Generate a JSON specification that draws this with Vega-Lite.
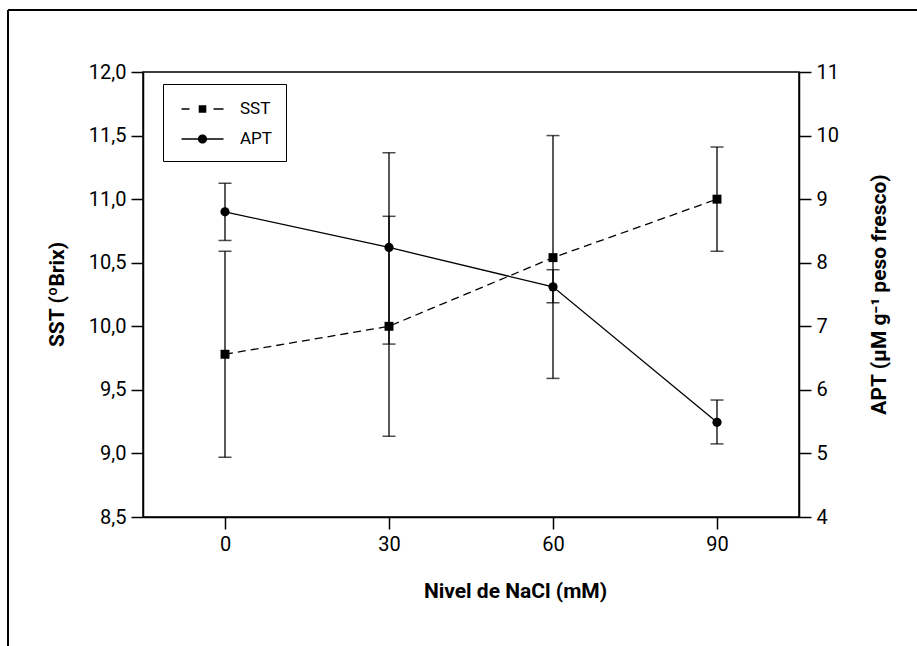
{
  "$schema": "https://vega.github.io/schema/vega-lite/v6.json",
  "autosize": {"type": "none"},
  "padding": {"left": 143, "top": 72, "right": 118, "bottom": 129},
  "width": 656,
  "height": 445,
  "background": "white",
  "datasets": {
    "d": [
      {"serie": "SST", "nacl": 0, "valor": 9.78, "lo": 8.97, "hi": 10.59},
      {"serie": "SST", "nacl": 30, "valor": 10.0, "lo": 9.135, "hi": 10.865},
      {"serie": "SST", "nacl": 60, "valor": 10.54, "lo": 9.59, "hi": 11.5},
      {"serie": "SST", "nacl": 90, "valor": 11.0, "lo": 10.59, "hi": 11.41},
      {"serie": "APT", "nacl": 0, "valor": 8.8, "lo": 8.35, "hi": 9.25},
      {"serie": "APT", "nacl": 30, "valor": 8.24, "lo": 6.72, "hi": 9.73},
      {"serie": "APT", "nacl": 60, "valor": 7.62, "lo": 7.37, "hi": 7.89},
      {"serie": "APT", "nacl": 90, "valor": 5.49, "lo": 5.15, "hi": 5.84}
    ]
  },
  "data": {"name": "d"},
  "layer": [
    {
      "transform": [{"filter": "datum.serie === 'SST'"}],
      "encoding": {
        "x": {
          "field": "nacl", "type": "quantitative",
          "scale": {"domain": [-15, 105], "nice": false, "zero": false},
          "axis": {
            "values": [0, 30, 60, 90],
            "title": "Nivel de NaCl (mM)",
            "titleX": 372, "titleY": 80, "titleBaseline": "alphabetic", "titleAlign": "center"
          }
        }
      },
      "layer": [
        {
          "mark": {"type": "rule", "color": "black", "strokeWidth": 1.5},
          "encoding": {
            "x": {"datum": -39.7, "type": "quantitative"},
            "y": {"datum": 12.487, "type": "quantitative"},
            "y2": {"datum": 6}
          }
        },
        {
          "mark": {"type": "rule", "color": "black", "strokeWidth": 1.5},
          "encoding": {
            "y": {"datum": 12.487, "type": "quantitative"},
            "x": {"datum": -39.7, "type": "quantitative"},
            "x2": {"datum": 250}
          }
        },
        {
          "mark": {"type": "line", "color": "black", "strokeWidth": 1.3, "strokeDash": [8, 5]},
          "encoding": {
            "y": {
              "field": "valor", "type": "quantitative",
              "scale": {"domain": [8.5, 12], "nice": false, "zero": false},
              "axis": {
                "values": [8.5, 9, 9.5, 10, 10.5, 11, 11.5, 12],
                "labelExpr": "replace(format(datum.value, '.1f'), '.', ',')",
                "title": "SST (ºBrix)",
                "titleX": -76, "titleY": 222, "titleAlign": "center", "titleBaseline": "bottom", "titleAngle": 270
              }
            }
          }
        },
        {
          "mark": {"type": "rule", "color": "black", "strokeWidth": 1.3},
          "encoding": {"y": {"field": "lo", "type": "quantitative"}, "y2": {"field": "hi"}}
        },
        {
          "mark": {"type": "tick", "orient": "horizontal", "color": "black", "size": 13, "thickness": 1.5},
          "encoding": {"y": {"field": "lo", "type": "quantitative"}}
        },
        {
          "mark": {"type": "tick", "orient": "horizontal", "color": "black", "size": 13, "thickness": 1.5},
          "encoding": {"y": {"field": "hi", "type": "quantitative"}}
        },
        {
          "mark": {"type": "point", "shape": "square", "filled": true, "color": "black", "opacity": 1, "size": 80},
          "encoding": {"y": {"field": "valor", "type": "quantitative"}}
        },
        {
          "data": {"values": [{"serie": "SST"}, {"serie": "APT"}]},
          "mark": {"type": "point", "filled": true, "color": "black", "opacity": 0},
          "encoding": {
            "x": {"datum": 0, "type": "quantitative"},
            "y": {"datum": 10, "type": "quantitative"},
            "shape": {
              "field": "serie", "type": "nominal",
              "scale": {
                "domain": ["SST", "APT"],
                "range": [
                  "M-2.1,-0.07H-1.3V0.07H-2.1ZM-0.38,-0.38H0.38V0.38H-0.38ZM1.1,-0.07H2.1V0.07H1.1Z",
                  "M-2.1,-0.07H-0.4V0.07H-2.1ZM0.4,-0.07H2.1V0.07H0.4ZM0.46,0A0.46,0.46 0 1,1 -0.46,0A0.46,0.46 0 1,1 0.46,0Z"
                ]
              },
              "legend": {
                "title": null,
                "orient": "none",
                "legendX": 20,
                "legendY": 12,
                "symbolSize": 400,
                "symbolOffset": 14.5,
                "strokeColor": "black",
                "padding": 14,
                "rowPadding": 11,
                "labelOffset": 26.5,
                "labelFontSize": 17,
                "labelColor": "black",
                "encode": {
                  "symbols": {
                    "update": {
                      "fill": {"value": "black"},
                      "opacity": {"value": 1},
                      "fillOpacity": {"value": 1}
                    }
                  }
                }
              }
            }
          }
        }
      ]
    },
    {
      "transform": [{"filter": "datum.serie === 'APT'"}],
      "encoding": {
        "x": {"field": "nacl", "type": "quantitative"}
      },
      "layer": [
        {
          "mark": {"type": "line", "color": "black", "strokeWidth": 1.3},
          "encoding": {
            "y": {
              "field": "valor", "type": "quantitative",
              "scale": {"domain": [4, 11], "nice": false, "zero": false},
              "axis": {
                "orient": "right",
                "values": [4, 5, 6, 7, 8, 9, 10, 11],
                "format": "d",
                "title": "APT (µM g⁻¹ peso fresco)",
                "titleX": 80, "titleY": 222, "titleAlign": "center", "titleBaseline": "middle", "titleAngle": 270
              }
            }
          }
        },
        {
          "mark": {"type": "rule", "color": "black", "strokeWidth": 1.3},
          "encoding": {"y": {"field": "lo", "type": "quantitative"}, "y2": {"field": "hi"}}
        },
        {
          "mark": {"type": "tick", "orient": "horizontal", "color": "black", "size": 13, "thickness": 1.5},
          "encoding": {"y": {"field": "lo", "type": "quantitative"}}
        },
        {
          "mark": {"type": "tick", "orient": "horizontal", "color": "black", "size": 13, "thickness": 1.5},
          "encoding": {"y": {"field": "hi", "type": "quantitative"}}
        },
        {
          "mark": {"type": "point", "shape": "circle", "filled": true, "color": "black", "opacity": 1, "size": 85},
          "encoding": {"y": {"field": "valor", "type": "quantitative"}}
        }
      ]
    }
  ],
  "resolve": {"scale": {"y": "independent"}},
  "config": {
    "font": "Roboto",
    "view": {"stroke": "black", "strokeWidth": 1.5},
    "axis": {
      "grid": false,
      "domainColor": "black",
      "domainWidth": 1.5,
      "tickColor": "black",
      "tickWidth": 1.5,
      "tickSize": 12,
      "labelColor": "black",
      "labelFontSize": 20,
      "labelFont": "Roboto",
      "labelPadding": 5,
      "titleColor": "black",
      "titleFontSize": 21,
      "titleFont": "Roboto",
      "titleFontWeight": "bold"
    },
    "legend": {"labelFont": "Roboto"}
  }
}
